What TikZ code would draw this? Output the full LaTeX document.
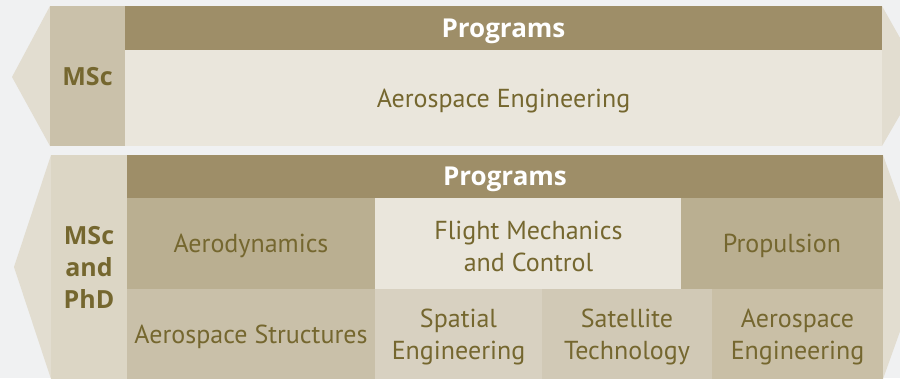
\documentclass[tikz,border=0pt]{standalone}
\usepackage{fontspec}
\setmainfont{PT Sans}
\newfontfamily\boldlabel{Open Sans}
\definecolor{bg}{HTML}{F0F1F2}
\definecolor{hdr}{HTML}{9E8E68}
\definecolor{arrowc}{HTML}{E2DDD0}
\definecolor{mscA}{HTML}{CAC1AA}
\definecolor{mscB}{HTML}{DCD6C5}
\definecolor{light}{HTML}{EAE6DC}
\definecolor{midA}{HTML}{BAAF91}
\definecolor{cellS}{HTML}{C9C0A9}
\definecolor{cellP}{HTML}{D8D1C1}
\definecolor{cellT}{HTML}{D1C9B6}
\definecolor{cellE}{HTML}{C9BFA6}
\definecolor{txt}{HTML}{75672F}
\tikzset{
  cell/.style={draw=none, inner sep=0pt, outer sep=0pt, anchor=north west, text=txt, font=\fontsize{26}{32}\selectfont, align=center},
  oneline/.style={text height=18pt, text depth=0pt},
  twoline/.style={inner sep=0pt, text=txt, font=\fontsize{26}{32}\selectfont, align=center, yshift=-3pt},
  hdrcell/.style={cell, oneline, fill=hdr, text=white, font=\boldlabel\fontsize{26}{30}\selectfont\bfseries},
  lvl/.style={cell, font=\boldlabel\fontsize{25}{32}\selectfont\bfseries},
}
\begin{document}
\begin{tikzpicture}[x=1pt,y=-1pt]
\useasboundingbox (0,0) rectangle (900,378);
\fill[bg] (0,0) rectangle (900,378);
% top block arrows
\fill[arrowc] (50,6) -- (12,77) -- (50,146) -- cycle;
\fill[arrowc] (882,6) -- (922,77) -- (882,146) -- cycle;
\node[lvl, oneline, fill=mscA, minimum width=75pt, minimum height=140pt] (msc) at (50,6) {MSc};
\node[hdrcell, minimum width=757pt, minimum height=44pt] (h1) at (125,6) {Programs};
\node[cell, oneline, fill=light, minimum width=757pt, minimum height=96pt] (ae1) at (125,50) {Aerospace Engineering};
% bottom block arrows
\fill[arrowc] (51,155) -- (14,267) -- (51,379) -- cycle;
\fill[arrowc] (883,155) -- (923,267) -- (883,379) -- cycle;
\node[lvl, fill=mscB, minimum width=76pt, minimum height=224pt] (mscphd) at (51,155) {MSc\\and\\PhD};
\node[hdrcell, minimum width=756pt, minimum height=43pt] (h2) at (127,155) {Programs};
\node[cell, oneline, fill=midA, minimum width=248pt, minimum height=91pt, yshift=0pt] (aero) at (127,198) {Aerodynamics};
\node[cell, fill=light, minimum width=307pt, minimum height=91pt] (flight) at (375,198) {};
\node[twoline] (flightt) at (flight.center) {Flight Mechanics\\and Control};
\node[cell, oneline, fill=midA, minimum width=202pt, minimum height=91pt] (prop) at (681,198) {Propulsion};
\node[cell, oneline, fill=cellS, minimum width=248pt, minimum height=90pt] (struct) at (127,289) {Aerospace Structures};
\node[cell, fill=cellP, minimum width=167pt, minimum height=90pt] (spatial) at (375,289) {};
\node[twoline] (spatialt) at (spatial.center) {Spatial\\Engineering};
\node[cell, fill=cellT, minimum width=170pt, minimum height=90pt] (sat) at (542,289) {};
\node[twoline] (satt) at (sat.center) {Satellite\\Technology};
\node[cell, fill=cellE, minimum width=171pt, minimum height=90pt] (ae2) at (712,289) {};
\node[twoline] (ae2t) at (ae2.center) {Aerospace\\Engineering};
\end{tikzpicture}
\end{document}
